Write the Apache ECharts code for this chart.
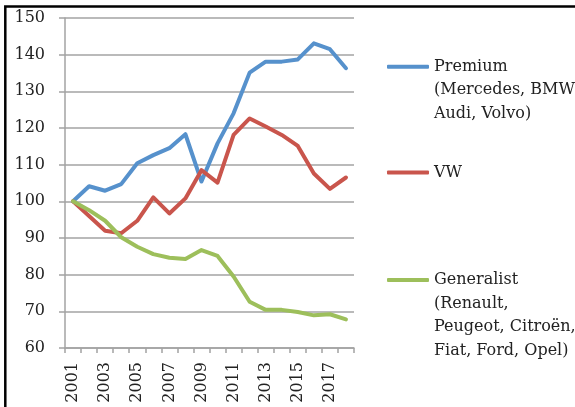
<!DOCTYPE html>
<html>
<head>
<meta charset="utf-8">
<script src="https://cdn.jsdelivr.net/npm/echarts@6/dist/echarts.min.js"></script>
<style>
  html, body { margin: 0; padding: 0; background: #fff; }
  #chart { width: 575px; height: 407px; }
</style>
</head>
<body>
<div id="chart"></div>
<script>
// index base 2001 = 100
const years = ['2001', '2002', '2003', '2004', '2005', '2006', '2007', '2008', '2009',
  '2010', '2011', '2012', '2013', '2014', '2015', '2016', '2017', '2018']

const premium = [100, 104.1, 102.9, 104.7, 110.4, 112.6, 114.5, 118.3, 105.4,
  115.8, 124, 135.1, 138.1, 138.1, 138.7, 143.1, 141.5, 136.3]
const vw = [100, 96, 92, 91.3, 94.7, 101.1, 96.7, 100.8, 108.5,
  105.1, 118.1, 122.6, 120.4, 118.1, 115.1, 107.6, 103.4, 106.5]
const generalist = [100, 97.6, 94.7, 90.2, 87.6, 85.6, 84.6, 84.3, 86.7,
  85.1, 79.5, 72.6, 70.4, 70.4, 69.8, 68.9, 69.2, 67.8]

const seriesNames = ['Premium', 'VW', 'Generalist']
const legendLines = {
  Premium: ['Premium', '(Mercedes, BMW', 'Audi, Volvo)'],
  VW: ['VW'],
  Generalist: ['Generalist', '(Renault,', 'Peugeot, Citroën,', 'Fiat, Ford, Opel)'],
}
const colors = ['#5691CC', '#C9554C', '#9DBF5B']

const serif = 'DejaVu Serif'
const grey = '#a3a3a3'
const ink = '#222'
const lh = 23.5

const chart = echarts.init(document.getElementById('chart'), null, { renderer: 'canvas' })

// one legend per series so the swatch sits on the first line of its label
const legendTops = { Premium: 66.7, VW: 172.5, Generalist: 280 }
const legends = seriesNames.map((name) => {
  const n = legendLines[name].length
  const h = (2 * n - 1) * lh
  return {
    data: [name],
    left: 387,
    top: legendTops[name] - h / 2,
    padding: 0,
    orient: 'vertical',
    icon: 'roundRect',
    itemWidth: 42,
    itemHeight: 4,
    selectedMode: false,
    formatter: (nm) => '\n'.repeat(n - 1) + legendLines[nm].join('\n'),
    textStyle: { fontFamily: serif, fontSize: 16, color: ink, lineHeight: lh },
  }
})

chart.setOption({
  animation: false,
  color: colors,
  graphic: [
    {
      type: 'rect',
      shape: { x: 5.3, y: 6.5, width: 700, height: 600 },
      style: { fill: 'none', stroke: '#000', lineWidth: 2.5 },
      silent: true,
    },
  ],
  legend: legends,
  grid: { left: 65, right: 221, top: 18, bottom: 59, containLabel: false },
  xAxis: {
    type: 'category',
    data: years,
    boundaryGap: true,
    axisLine: { lineStyle: { color: grey, width: 1.5 } },
    axisTick: { show: true, interval: 0, length: 5, lineStyle: { color: grey, width: 1.5 } },
    axisLabel: {
      interval: 1,
      rotate: 90,
      margin: 14,
      padding: [5, 0, 0, 0],
      fontFamily: serif,
      fontSize: 16,
      color: ink,
    },
  },
  yAxis: {
    type: 'value',
    min: 60,
    max: 150,
    interval: 10,
    axisLine: { show: true, lineStyle: { color: grey, width: 1.5 } },
    axisTick: { show: true, length: 6, lineStyle: { color: grey, width: 1.5 } },
    splitLine: { lineStyle: { color: grey, width: 1.5 } },
    axisLabel: { margin: 20, fontFamily: serif, fontSize: 16, color: ink },
  },
  series: [
    { name: 'Premium', data: premium },
    { name: 'VW', data: vw },
    { name: 'Generalist', data: generalist },
  ].map((s) => ({
    ...s,
    type: 'line',
    symbol: 'none',
    lineStyle: { width: 4, cap: 'round', join: 'round' },
  })),
})
</script>
</body>
</html>
